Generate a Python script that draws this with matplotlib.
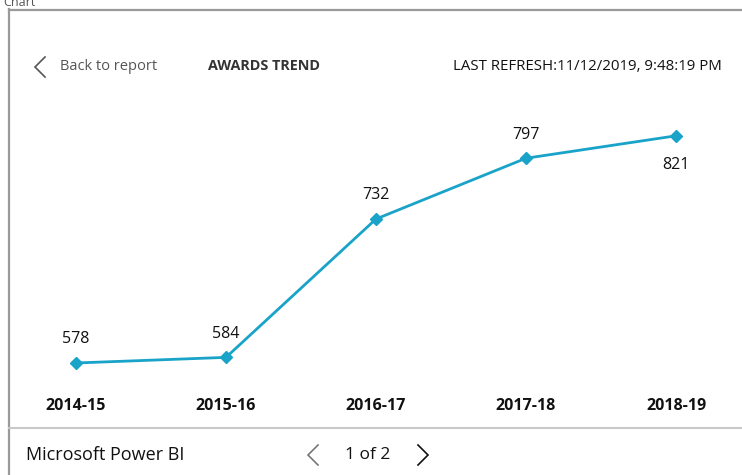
import matplotlib
matplotlib.use("Agg")
import matplotlib.pyplot as plt
from matplotlib.lines import Line2D

plt.rcParams['font.family'] = ['Open Sans', 'DejaVu Sans']

years = ["2014-15", "2015-16", "2016-17", "2017-18", "2018-19"]
awards = [578, 584, 732, 797, 821]
label_above = [True, True, True, True, False]

title = "AWARDS TREND"
refresh = "LAST REFRESH:11/12/2019, 9:48:19 PM"
back = "Back to report"
footer = "Microsoft Power BI"
pager = "1 of 2"

W, H = 742, 475
fig = plt.figure(figsize=(W / 100, H / 100), dpi=100)
fig.patch.set_facecolor("white")

def fx(px):
    return px / W

def fy(py):
    return 1 - py / H

def chevron(tip_x, tip_y, arm_x, half_h, color):
    fig.add_artist(Line2D([fx(arm_x), fx(tip_x), fx(arm_x)],
                          [fy(tip_y - half_h), fy(tip_y), fy(tip_y + half_h)],
                          color=color, lw=1.2, solid_joinstyle="miter"))

# frame lines
fig.add_artist(Line2D([fx(9), fx(9)], [fy(9), fy(H)], color="#9a9a9a", lw=1.6))
fig.add_artist(Line2D([fx(9), fx(W)], [fy(9.5), fy(9.5)], color="#9a9a9a", lw=1.6))
fig.add_artist(Line2D([fx(9), fx(W)], [fy(428), fy(428)], color="#c8c8c8", lw=1.5))

fig.text(fx(3), fy(6), "Chart", fontsize=9, color="#555555", va="baseline")

# header
chevron(35, 67, 45, 10, "#555555")
fig.text(fx(60), fy(67), back, fontsize=10.5, color="#555555", va="center")
fig.text(fx(208), fy(66), title, fontsize=10.4, color="#333333", va="center",
         fontweight="bold")
fig.text(fx(722), fy(67), refresh, fontsize=10.8, color="#111111", va="center", ha="right")

# footer
fig.text(fx(26), fy(455), footer, fontsize=13, color="#111111", va="center")
chevron(308, 455, 318, 10, "#777777")
fig.text(fx(368), fy(455), pager, fontsize=12.5, color="#111111", ha="center", va="center")
chevron(428, 455, 418, 10, "#111111")

# plot axes: pixel 26..726 horizontally, 120..380 vertically
ax = fig.add_axes([fx(26), fy(380), (726 - 26) / W, (380 - 120) / H])
ax.set_facecolor("none")
x = list(range(len(years)))
ax.plot(x, awards, color="#1aa3c8", lw=2, marker="D", markersize=6.5,
        markerfacecolor="#1aa3c8", markeredgecolor="#1aa3c8")
ax.set_xlim(-1 / 3, len(years) - 1 + 1 / 3)
ax.set_ylim(559.8, 837.9)
for xi, v, above in zip(x, awards, label_above):
    off = 17 if above else -21
    ax.annotate(str(v), (xi, v), xytext=(0, off), textcoords="offset points",
                ha="center", va="center", fontsize=11.5, color="#111111")
for s in ax.spines.values():
    s.set_visible(False)
ax.set_yticks([])
ax.set_xticks(x)
ax.set_xticklabels(years, fontsize=11.5, fontweight="bold", color="#111111")
ax.tick_params(axis="x", length=0, pad=13)

fig.savefig("out.png", dpi=100, facecolor="white")
